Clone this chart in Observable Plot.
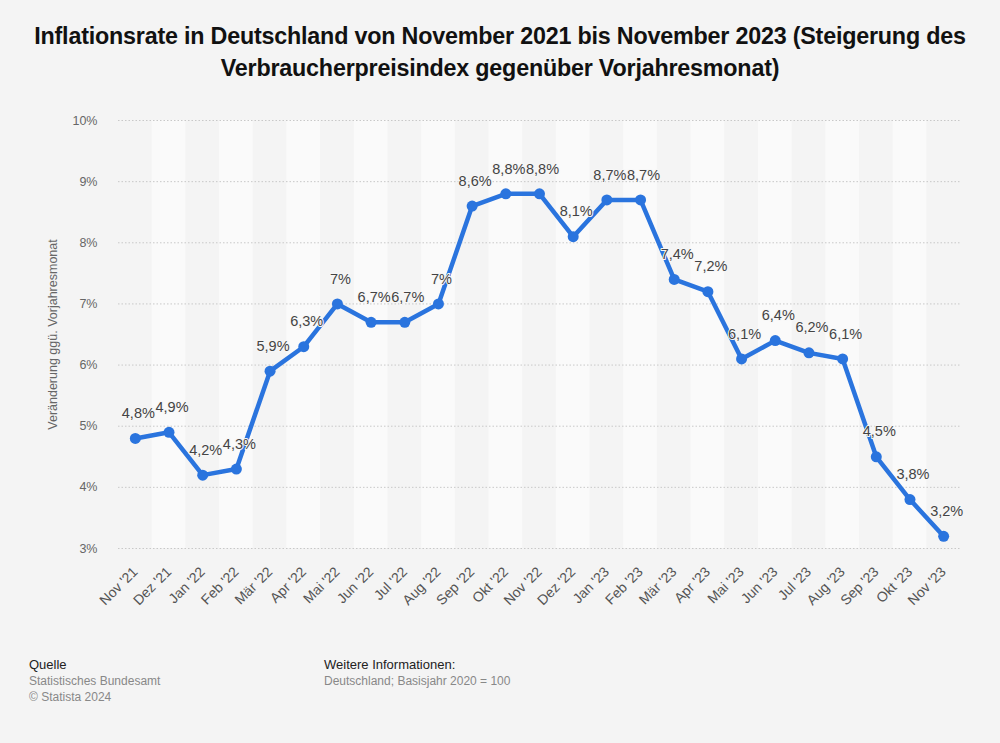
<!DOCTYPE html>
<html>
<head>
<meta charset="utf-8">
<script src="https://cdn.jsdelivr.net/npm/d3@7"></script>
<script src="https://cdn.jsdelivr.net/npm/@observablehq/plot@0.6"></script>
<style>
  html, body { margin: 0; padding: 0; background: #f4f4f4; width: 1000px; height: 743px; overflow: hidden; font-family: "Liberation Sans", Arial, sans-serif; }
  #title { position: absolute; left: 0; top: 20px; width: 1000px; text-align: center; font-family: "Liberation Sans", Arial, sans-serif; font-weight: bold; font-size: 23.3px; line-height: 32px; color: #111; letter-spacing: -0.2px; }
  #chart { position: absolute; left: 0; top: 100px; }
  .foot { position: absolute; font-size: 12px; line-height: 16px; color: #888; }
  .foot b { font-weight: normal; color: #222; font-size: 13px; }
</style>
</head>
<body>
<div id="title">Inflationsrate in Deutschland von November 2021 bis November 2023 (Steigerung des<br>Verbraucherpreisindex gegenüber Vorjahresmonat)</div>
<div id="chart"></div>
<div class="foot" style="left:29px; top:657px;"><b>Quelle</b><br>Statistisches Bundesamt<br>© Statista 2024</div>
<div class="foot" style="left:324px; top:657px;"><b>Weitere Informationen:</b><br>Deutschland; Basisjahr 2020 = 100</div>
<script>
const months = ["Nov '21","Dez '21","Jan '22","Feb '22","Mär '22","Apr '22","Mai '22","Jun '22","Jul '22","Aug '22","Sep '22","Okt '22","Nov '22","Dez '22","Jan '23","Feb '23","Mär '23","Apr '23","Mai '23","Jun '23","Jul '23","Aug '23","Sep '23","Okt '23","Nov '23"];
const values = [4.8,4.9,4.2,4.3,5.9,6.3,7.0,6.7,6.7,7.0,8.6,8.8,8.8,8.1,8.7,8.7,7.4,7.2,6.1,6.4,6.2,6.1,4.5,3.8,3.2];
const yTicks = [3,4,5,6,7,8,9,10];

const data = months.map((m, i) => ({month: m, value: values[i], i}));
const bands = data.filter(d => d.i % 2 === 1);
const fmt = v => (Number.isInteger(v) ? String(v) : String(v).replace(".", ",")) + "%";

const chart = Plot.plot({
  width: 1000,
  height: 540,
  marginLeft: 118,
  marginRight: 40,
  marginTop: 20,
  marginBottom: 92,
  style: {background: "transparent", fontFamily: "'Liberation Sans', Arial, sans-serif", fontSize: "12px", overflow: "visible"},
  x: {type: "band", domain: months, padding: 0, round: false},
  y: {domain: [3, 10]},
  marks: [
    Plot.barY(bands, {x: "month", y1: 3, y2: 10, fill: "#fafafa", inset: 0}),
    Plot.ruleY(yTicks, {stroke: "#c8c8c8", strokeDasharray: "1.5,2", strokeWidth: 1}),
    Plot.axisY(yTicks, {tickSize: 0, tickPadding: 21, tickFormat: d => d + "%", fontSize: 12.5, color: "#666",
      label: "Veränderung ggü. Vorjahresmonat", labelAnchor: "center", labelArrow: "none", labelOffset: 70}),
    Plot.axisX({tickSize: 0, tickRotate: -45, tickPadding: 21, fontSize: 14, color: "#555", label: null}),
    Plot.line(data, {x: "month", y: "value", stroke: "#2a74de", strokeWidth: 4.5, strokeLinejoin: "round"}),
    Plot.dot(data, {x: "month", y: "value", r: 5.5, fill: "#2a74de"}),
    Plot.text(data, {x: "month", y: "value", text: d => fmt(d.value), dy: -25, dx: 3, fontSize: 14.5, fill: "#444", stroke: "#f7f7f7", strokeWidth: 2})
  ]
});
document.getElementById("chart").appendChild(chart);
</script>
</body>
</html>
